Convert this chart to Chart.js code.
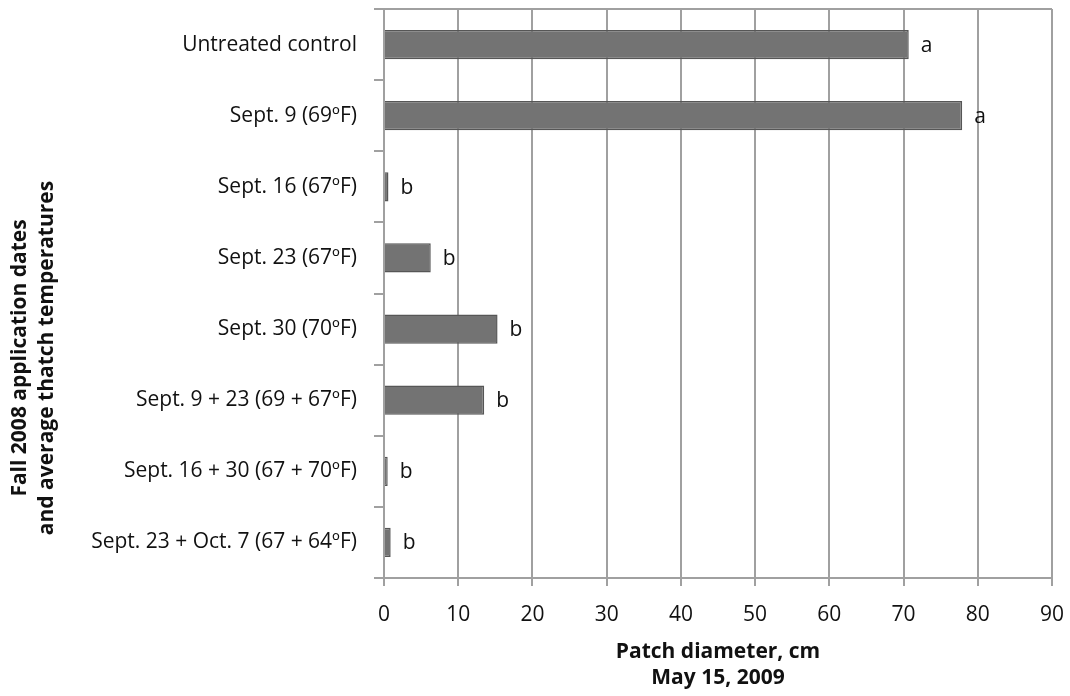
<!DOCTYPE html>
<html>
<head>
<meta charset="utf-8">
<script src="https://cdn.jsdelivr.net/npm/chart.js@4/dist/chart.umd.min.js"></script>
<style>
  html, body { margin: 0; padding: 0; background: #fff; }
  #wrap { width: 1070px; height: 696px; }
</style>
</head>
<body>
<div id="wrap"><canvas id="myChart" width="1070" height="696"></canvas></div>
<script>
const treatments = [
	"Untreated control",
	"Sept. 9 (69ºF)",
	"Sept. 16 (67ºF)",
	"Sept. 23 (67ºF)",
	"Sept. 30 (70ºF)",
	"Sept. 9 + 23 (69 + 67ºF)",
	"Sept. 16 + 30 (67 + 70ºF)",
	"Sept. 23 + Oct. 7 (67 + 64ºF)"
]
const patchDiameter = [70.7, 77.9, 0.6, 6.3, 15.3, 13.5, 0.5, 0.9]
const letters = ["a", "a", "b", "b", "b", "b", "b", "b"]
const xTicks = [0, 10, 20, 30, 40, 50, 60, 70, 80, 90]
const xTitle = ["Patch diameter, cm", "May 15, 2009"]
const yTitle = ["Fall 2008 application dates", "and average thatch temperatures"]

const gray = "#a0a0a0"
const fontSize = 21
Chart.defaults.font.family = "'Open Sans', sans-serif"
Chart.defaults.color = "#111"

// letters to the right of each bar
const letterPlugin = {
	id: "letters",
	afterDatasetsDraw(chart) {
		const ctx = chart.ctx
		const xs = chart.scales.x
		const ys = chart.scales.y
		ctx.save()
		ctx.font = fontSize + "px 'Open Sans', sans-serif"
		ctx.fillStyle = "#111"
		ctx.textAlign = "left"
		ctx.textBaseline = "middle"
		patchDiameter.forEach((v, i) => {
			ctx.fillText(letters[i], xs.getPixelForValue(v) + 12, ys.getPixelForValue(i) + 1)
		})
		ctx.restore()
	}
}

// y title sits lower than the plot center in the original
const yTitlePlugin = {
	id: "yTitle",
	afterDraw(chart) {
		const ctx = chart.ctx
		ctx.save()
		ctx.font = "bold " + fontSize + "px 'Open Sans', sans-serif"
		ctx.fillStyle = "#111"
		ctx.textAlign = "center"
		ctx.textBaseline = "middle"
		ctx.translate(0, 358)
		ctx.rotate(-Math.PI / 2)
		ctx.fillText(yTitle[0], 0, 20)
		ctx.fillText(yTitle[1], 0, 47)
		ctx.restore()
	}
}

const chart = new Chart("myChart", {
	type: "bar",
	data: {
		labels: treatments,
		datasets: [{
			data: patchDiameter,
			backgroundColor: "#737373",
			borderColor: "#565656",
			borderWidth: 1.5,
			categoryPercentage: 1,
			barPercentage: 0.41
		}]
	},
	options: {
		indexAxis: "y",
		responsive: false,
		animation: false,
		layout: { padding: { top: 9, right: 18, left: 0, bottom: 0 } },
		plugins: { legend: { display: false }, tooltip: { enabled: false } },
		scales: {
			x: {
				min: 0,
				max: 90,
				afterBuildTicks: scale => { scale.ticks = xTicks.map(v => ({ value: v })) },
				afterFit: scale => {
					scale.height = 118
					scale.paddingLeft = 0
					scale.paddingRight = 0
				},
				grid: { color: gray, lineWidth: 2, tickColor: gray, tickLength: 8 },
				border: { color: gray, width: 2 },
				ticks: { font: { size: fontSize }, padding: 16, maxRotation: 0 },
				title: {
					display: true,
					text: xTitle,
					font: { size: fontSize, weight: "bold", lineHeight: 1.24 },
					padding: { top: 0, bottom: 5 }
				}
			},
			y: {
				afterFit: scale => {
					scale.width = 384
					scale.paddingTop = 0
					scale.paddingBottom = 0
				},
				grid: {
					offset: true,
					color: c => c.index === 0 ? gray : "transparent",
					lineWidth: 2,
					tickColor: gray,
					tickLength: 10
				},
				border: { color: gray, width: 2 },
				ticks: { font: { size: fontSize }, padding: 17 }
			}
		}
	},
	plugins: [letterPlugin, yTitlePlugin]
})
</script>
</body>
</html>
